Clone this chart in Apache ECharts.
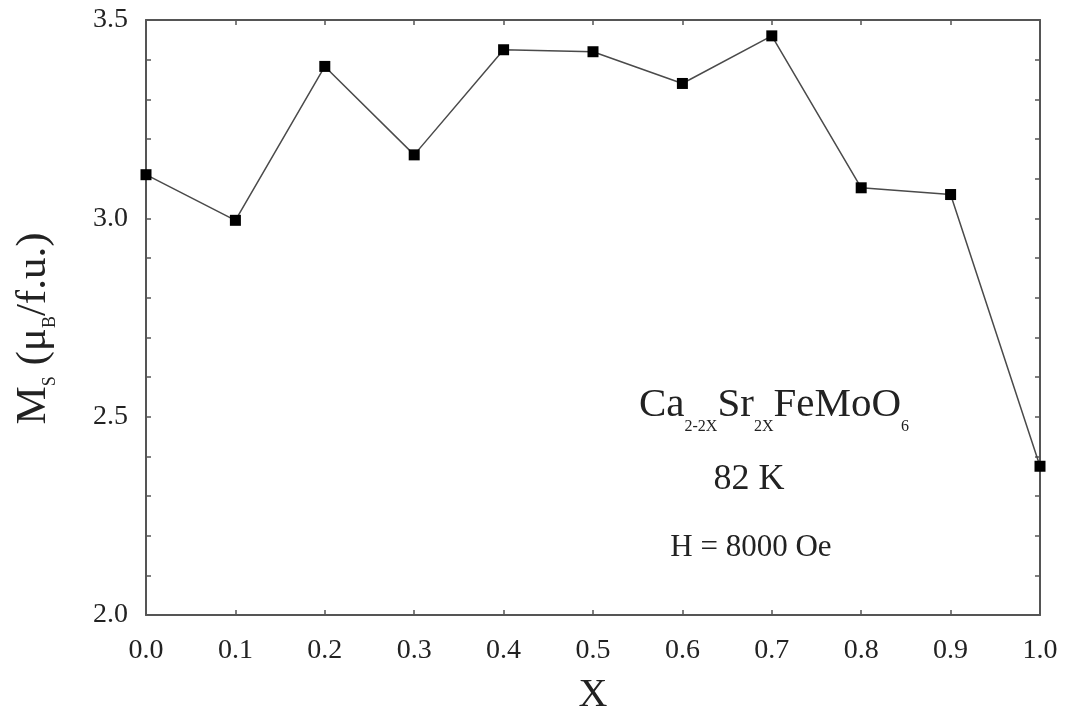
<!DOCTYPE html>
<html>
<head>
<meta charset="utf-8">
<script src="https://cdn.jsdelivr.net/npm/echarts@6/dist/echarts.min.js"></script>
<style>
  html, body { margin: 0; padding: 0; background: #fff; }
  #chart { width: 1065px; height: 719px; }
</style>
</head>
<body>
<div id="chart"></div>
<script>
// Sr fraction x in Ca(2-2x)Sr(2x)FeMoO6
const xValues = [0.0, 0.1, 0.2, 0.3, 0.4, 0.5, 0.6, 0.7, 0.8, 0.9, 1.0];
// Saturation magnetisation Ms (muB per formula unit) at 82 K, H = 8000 Oe
const msValues = [3.11, 2.995, 3.383, 3.16, 3.425, 3.42, 3.34, 3.46, 3.077, 3.06, 2.375];

const serif = '"Liberation Serif", "DejaVu Serif", serif';
const axisColor = '#555';
const textColor = '#222';

const points = xValues.map((x, i) => [x, msValues[i]]);

const chart = echarts.init(document.getElementById('chart'), null, { renderer: 'canvas' });

const frameAxis = {
  axisLine: { show: true, onZero: false, lineStyle: { color: axisColor, width: 2 } },
  axisTick: { show: true, inside: true, length: 5, lineStyle: { color: axisColor, width: 1.5 } },
  splitLine: { show: false }
};

chart.setOption({
  animation: false,
  backgroundColor: '#fff',
  grid: { left: 146, right: 25, top: 20, bottom: 104, containLabel: false, outerBoundsMode: 'none' },
  xAxis: [
    Object.assign({}, frameAxis, {
      type: 'value', position: 'bottom', min: 0, max: 1, interval: 0.1,
      axisLabel: {
        color: textColor, fontFamily: serif, fontSize: 28, margin: 22,
        formatter: v => v.toFixed(1)
      },
      name: 'X', nameLocation: 'middle', nameGap: 60,
      nameTextStyle: { color: textColor, fontFamily: serif, fontSize: 40 }
    }),
    Object.assign({}, frameAxis, {
      type: 'value', position: 'top', min: 0, max: 1, interval: 0.1,
      axisLabel: { show: false }
    })
  ],
  yAxis: [
    Object.assign({}, frameAxis, {
      type: 'value', position: 'left', min: 2.0, max: 3.5, interval: 0.5,
      minorTick: { show: true, splitNumber: 5, length: 5, lineStyle: { color: axisColor, width: 1.5 } },
      axisLabel: {
        color: textColor, fontFamily: serif, fontSize: 28, margin: 18,
        formatter: v => v.toFixed(1)
      },
      name: '{m|M}{s|S}{m| (μ}{s|B}{m|/f.u.)}',
      nameLocation: 'middle', nameRotate: 90, nameGap: 87,
      nameTextStyle: {
        padding: [0, 22, 0, 0],
        rich: {
          m: { fontFamily: serif, fontSize: 43, color: textColor, lineHeight: 50 },
          s: { fontFamily: serif, fontSize: 18, color: textColor, verticalAlign: 'bottom', lineHeight: 18 }
        }
      }
    }),
    Object.assign({}, frameAxis, {
      type: 'value', position: 'right', min: 2.0, max: 3.5, interval: 0.5,
      minorTick: { show: true, splitNumber: 5, length: 5, lineStyle: { color: axisColor, width: 1.5 } },
      axisLabel: { show: false }
    })
  ],
  series: [{
    type: 'line',
    xAxisIndex: 0, yAxisIndex: 0,
    data: points,
    symbol: 'rect',
    symbolSize: 11,
    showAllSymbol: true,
    lineStyle: { color: '#4a4a4a', width: 1.5 },
    itemStyle: { color: '#000' },
    clip: false,
    z: 5
  }],
  graphic: [
    {
      type: 'text', x: 774, y: 405,
      style: {
        text: '{m|Ca}{s|2-2X}{m|Sr}{s|2X}{m|FeMoO}{s|6}',
        align: 'center', verticalAlign: 'middle',
        rich: {
          m: { fontFamily: serif, fontSize: 41, fill: textColor, lineHeight: 60 },
          s: { fontFamily: serif, fontSize: 16, fill: textColor, verticalAlign: 'bottom', lineHeight: 16 }
        }
      }
    },
    {
      type: 'text', x: 749, y: 480,
      style: {
        text: '82 K', align: 'center', verticalAlign: 'middle',
        font: '36px ' + serif, fill: textColor
      }
    },
    {
      type: 'text', x: 751, y: 548,
      style: {
        text: 'H = 8000 Oe', align: 'center', verticalAlign: 'middle',
        font: '31px ' + serif, fill: textColor
      }
    }
  ]
});
</script>
</body>
</html>
